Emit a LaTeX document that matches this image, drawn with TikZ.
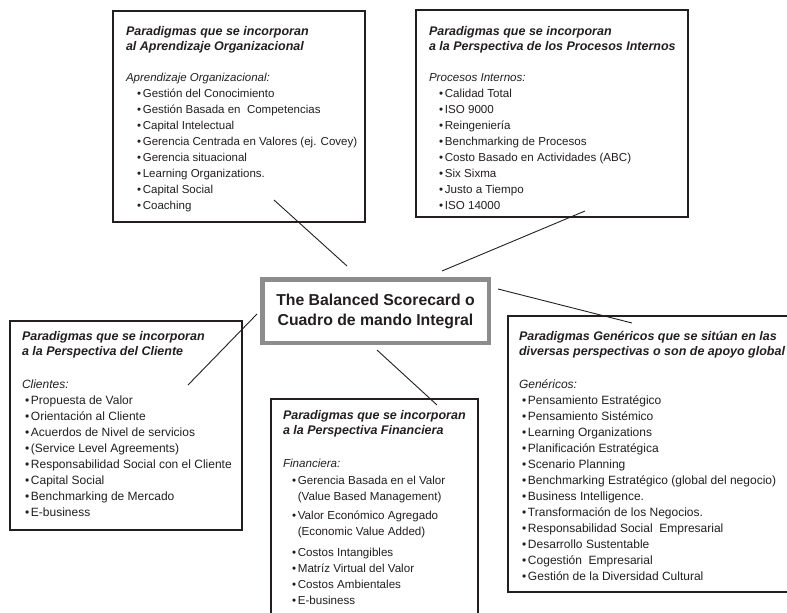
\documentclass[tikz,border=0pt]{standalone}
\usepackage{fontspec}
\setmainfont{Liberation Sans}
\definecolor{ink}{HTML}{231F20}
\definecolor{framegray}{HTML}{8C8C8C}
\newlength\bxind
\newcommand\bxsz{11.5}
\newcommand\bxttl[1]{{\fontsize{12.5}{15}\selectfont\bfseries\itshape #1\par}}
\newcommand\bxsub[1]{{\fontsize{\bxsz}{16}\selectfont\itshape #1\par}}
\newcommand\bxitm[1]{{\fontsize{\bxsz}{16}\selectfont\hspace*{\bxind}\textbullet\hspace{1.8pt}#1\par}}
\newcommand\bxcnt[1]{{\fontsize{\bxsz}{16}\selectfont\setbox0\hbox{\textbullet\hspace{1.8pt}}\hspace*{\bxind}\hspace*{\wd0}#1\par}}
\newenvironment{bxtext}[2]{\begin{minipage}[t]{290pt}\setlength\parindent{0pt}\setlength\parskip{0pt}\setlength\bxind{#1}\renewcommand\bxsz{#2}}{\end{minipage}}
\tikzset{
  pbox/.style={draw=ink, line width=1.6pt, inner sep=0pt, outer sep=0pt, anchor=north west},
  ptext/.style={anchor=base west, inner sep=0pt, outer sep=0pt, text=ink},
  conn/.style={draw=ink, line width=0.9pt},
  centerbox/.style={draw=framegray, line width=4.5pt, fill=white, inner sep=0pt, minimum width=226.5pt, minimum height=63.5pt, align=center, text=ink, font=\fontsize{15.8}{20}\selectfont\bfseries}
}
\begin{document}
\begin{tikzpicture}[x=1pt,y=-1pt]
\useasboundingbox (0,0) rectangle (787,613);
\clip (0,0) rectangle (787,613);
\fill[white] (0,0) rectangle (787,613);

% boxes
\node[pbox, minimum width=252pt, minimum height=211pt] (b1) at (113,11) {};
\node[pbox, minimum width=272pt, minimum height=207pt] (b2) at (416,10) {};
\node[pbox, minimum width=232pt, minimum height=209pt] (b3) at (10,321) {};
\node[pbox, minimum width=207pt, minimum height=225pt] (b4) at (271,399) {};
\node[pbox, minimum width=284pt, minimum height=276pt] (b5) at (508,316) {};

% texts
\node[ptext] (t1) at (126,35) {\begin{bxtext}{11pt}{11.5}
\bxttl{Paradigmas que se incorporan}
\bxttl{al Aprendizaje Organizacional}
\vspace{15pt}
\bxsub{Aprendizaje Organizacional:}
\bxitm{Gestión del Conocimiento}
\bxitm{Gestión Basada en\ \ Competencias}
\bxitm{Capital Intelectual}
\bxitm{Gerencia Centrada en Valores (ej. Covey)}
\bxitm{Gerencia situacional}
\bxitm{Learning Organizations.}
\bxitm{Capital Social}
\bxitm{Coaching}
\end{bxtext}};

\node[ptext] (t2) at (429,35) {\begin{bxtext}{10pt}{11.6}
\bxttl{Paradigmas que se incorporan}
\bxttl{a la Perspectiva de los Procesos Internos}
\vspace{15pt}
\bxsub{Procesos Internos:}
\bxitm{Calidad Total}
\bxitm{ISO 9000}
\bxitm{Reingeniería}
\bxitm{Benchmarking de Procesos}
\bxitm{Costo Basado en Actividades (ABC)}
\bxitm{Six Sixma}
\bxitm{Justo a Tiempo}
\bxitm{ISO 14000}
\end{bxtext}};

\node[ptext] (t3) at (22,340) {\begin{bxtext}{3pt}{12}
\bxttl{Paradigmas que se incorporan}
\bxttl{a la Perspectiva del Cliente}
\vspace{17pt}
\bxsub{Clientes:}
\bxitm{Propuesta de Valor}
\bxitm{Orientación al Cliente}
\bxitm{Acuerdos de Nivel de servicios}
\bxitm{(Service Level Agreements)}
\bxitm{Responsabilidad Social con el Cliente}
\bxitm{Capital Social}
\bxitm{Benchmarking de Mercado}
\bxitm{E-business}
\end{bxtext}};

\node[ptext] (t4) at (283,419) {\begin{bxtext}{9pt}{11.6}
\bxttl{Paradigmas que se incorporan}
\bxttl{a la Perspectiva Financiera}
\vspace{17pt}
\bxsub{Financiera:}
\vspace{1pt}
\bxitm{Gerencia Basada en el Valor}
\bxcnt{(Value Based Management)}
\vspace{3pt}
\bxitm{Valor Económico Agregado}
\bxcnt{(Economic Value Added)}
\vspace{5pt}
\bxitm{Costos Intangibles}
\bxitm{Matríz Virtual del Valor}
\bxitm{Costos Ambientales}
\bxitm{E-business}
\end{bxtext}};

\node[ptext] (t5) at (519,340) {\begin{bxtext}{3pt}{12}
\bxttl{Paradigmas Genéricos que se sitúan en las}
\bxttl{diversas perspectivas o son de apoyo global}
\vspace{17pt}
\bxsub{Genéricos:}
\bxitm{Pensamiento Estratégico}
\bxitm{Pensamiento Sistémico}
\bxitm{Learning Organizations}
\bxitm{Planificación Estratégica}
\bxitm{Scenario Planning}
\bxitm{Benchmarking Estratégico (global del negocio)}
\bxitm{Business Intelligence.}
\bxitm{Transformación de los Negocios.}
\bxitm{Responsabilidad Social\ \ Empresarial}
\bxitm{Desarrollo Sustentable}
\bxitm{Cogestión\ \ Empresarial}
\bxitm{Gestión de la Diversidad Cultural}
\end{bxtext}};

% center
\node[centerbox] (c) at (375.5,311) {The Balanced Scorecard o\\Cuadro de mando Integral};

% connector ends
\coordinate (s1) at (347,266);
\coordinate (e1) at (274,200);
\coordinate (s2) at (442,271);
\coordinate (e2) at (585,211);
\coordinate (s3) at (257,314);
\coordinate (e3) at (188,385);
\coordinate (s4) at (377,350);
\coordinate (e4) at (437,405);
\coordinate (s5) at (498,289);
\coordinate (e5) at (632,323);
\draw[conn] (s1) -- (e1);
\draw[conn] (s2) -- (e2);
\draw[conn] (s3) -- (e3);
\draw[conn] (s4) -- (e4);
\draw[conn] (s5) -- (e5);
\end{tikzpicture}
\end{document}
